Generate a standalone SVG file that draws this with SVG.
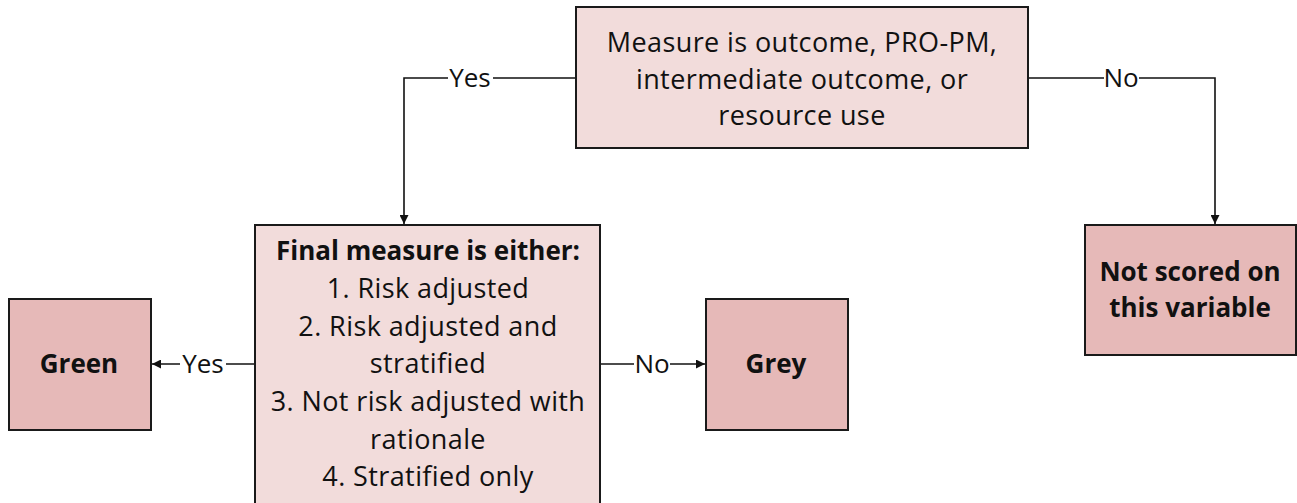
<svg xmlns="http://www.w3.org/2000/svg" width="1297" height="503" viewBox="0 0 1297 503">
  <style>
    .light { fill: #f2dcdb; stroke: #1a1a1a; stroke-width: 2; }
    .dark { fill: #e6b9b8; stroke: #1a1a1a; stroke-width: 2; }
    text { font-family: "Open Sans", "Noto Sans", "Liberation Sans", sans-serif; fill: #111; text-anchor: middle; dominant-baseline: central; }
    .body { font-size: 27px; letter-spacing: 0.4px; }
    .bold { font-size: 26px; font-weight: bold; }
    .label { font-size: 26px; }
    .wire { fill: none; stroke: #111; stroke-width: 1.6; }
    .mask { fill: #ffffff; }
  </style>
  <defs>
    <marker id="arrow" viewBox="0 0 10 10" refX="10" refY="5" markerWidth="9" markerHeight="9" markerUnits="userSpaceOnUse" orient="auto">
      <path d="M0,0 L10,5 L0,10 z" fill="#111"/>
    </marker>
  </defs>

  <!-- connectors -->
  <g id="connectors">
    <path class="wire" d="M576,78 H404 V224" marker-end="url(#arrow)"/>
    <path class="wire" d="M1028,78 H1215 V224" marker-end="url(#arrow)"/>
    <path class="wire" d="M255,364 H152" marker-end="url(#arrow)"/>
    <path class="wire" d="M600,364 H705" marker-end="url(#arrow)"/>
    <rect class="mask" x="448" y="63" width="45" height="30"/>
    <text class="label" x="470" y="77">Yes</text>
    <rect class="mask" x="1104" y="63" width="35" height="30"/>
    <text class="label" x="1121" y="77">No</text>
    <rect class="mask" x="180" y="349" width="46" height="30"/>
    <text class="label" x="203" y="363">Yes</text>
    <rect class="mask" x="634" y="349" width="36" height="30"/>
    <text class="label" x="652" y="363">No</text>
  </g>

  <g id="node-measure-type">
    <rect class="light" x="576" y="7" width="452" height="141"/>
    <text class="body" x="802" y="41">Measure is outcome, PRO-PM,</text>
    <text class="body" x="802" y="78">intermediate outcome, or</text>
    <text class="body" x="802" y="114">resource use</text>
  </g>

  <g id="node-final-measure">
    <rect class="light" x="255" y="225" width="345" height="290"/>
    <text class="bold" x="428" y="250">Final measure is either:</text>
    <text class="body" x="428" y="287">1. Risk adjusted</text>
    <text class="body" x="428" y="325">2. Risk adjusted and</text>
    <text class="body" x="428" y="362">stratified</text>
    <text class="body" x="428" y="400">3. Not risk adjusted with</text>
    <text class="body" x="428" y="438">rationale</text>
    <text class="body" x="428" y="475">4. Stratified only</text>
  </g>

  <g id="node-green">
    <rect class="dark" x="9" y="299" width="142" height="131"/>
    <text class="bold" x="79" y="363">Green</text>
  </g>

  <g id="node-grey">
    <rect class="dark" x="706" y="299" width="142" height="131"/>
    <text class="bold" x="776" y="363">Grey</text>
  </g>

  <g id="node-not-scored">
    <rect class="dark" x="1085" y="225" width="211" height="130"/>
    <text class="bold" x="1190" y="271">Not scored on</text>
    <text class="bold" x="1190" y="307">this variable</text>
  </g>
</svg>
